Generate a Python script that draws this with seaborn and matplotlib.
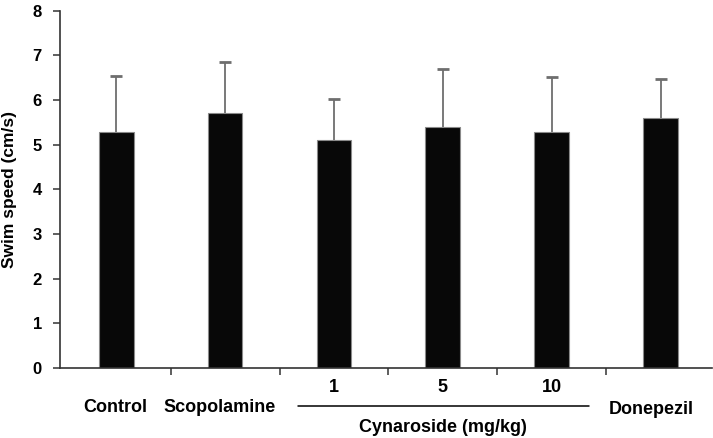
import matplotlib
matplotlib.use("Agg")
import matplotlib.pyplot as plt
import matplotlib.transforms as mtransforms
import seaborn as sns
import pandas as pd

# Data
groups = ["Control", "Scopolamine", "Cyn1", "Cyn5", "Cyn10", "Donepezil"]
swim_speed = [5.29, 5.70, 5.10, 5.40, 5.29, 5.60]
sd = [1.24, 1.16, 0.93, 1.29, 1.22, 0.87]
dose_labels = ["1", "5", "10"]
y_ticks = [0, 1, 2, 3, 4, 5, 6, 7, 8]

sns.set_theme(style="white")
plt.rcParams["font.family"] = ["Liberation Sans", "DejaVu Sans"]
plt.rcParams["font.weight"] = "bold"

df = pd.DataFrame({"group": groups, "speed": swim_speed, "sd": sd})

fig = plt.figure(figsize=(7.13, 4.38), dpi=100)
ax = fig.add_axes([60 / 713, 1 - 368 / 438, 652 / 713, (368 - 10.7) / 438])

sns.barplot(data=df, x="group", y="speed", order=groups, color="#080808",
            width=0.32, errorbar=None, edgecolor="#8a8a8a", linewidth=0.8,
            saturation=1, ax=ax)

xs = list(range(len(groups)))
eb = ax.errorbar(xs, df["speed"], yerr=[[0] * len(sd), df["sd"]], fmt="none",
                 ecolor="#6e6e6e", elinewidth=1.3, capsize=4, capthick=2, zorder=1)
# hide the lower caps (error bars are one-sided, upward only)
eb[1][0].set_visible(False)
for patch in ax.patches:
    patch.set_zorder(2)

ax.set_xlim(-0.515, 5.47)
ax.set_ylim(0, 8)
ax.set_yticks(y_ticks)
ax.set_yticklabels([str(t) for t in y_ticks], fontsize=12, fontweight="bold",
                   color="black")
ax.set_xticks([0.5, 1.5, 2.5, 3.5, 4.5])
ax.set_xticklabels([])
ax.tick_params(axis="both", direction="out", length=5, width=1.1, color="#333333",
               bottom=True, left=True)
ax.tick_params(axis="y", pad=8)
ax.set_xlabel("")
ax.set_ylabel("Swim speed (cm/s)", fontsize=12.5, fontweight="bold", color="black")
ax.yaxis.set_label_coords(-0.066, 0.5)

for s in ["top", "right"]:
    ax.spines[s].set_visible(False)
for s in ["left", "bottom"]:
    ax.spines[s].set_color("#333333")
    ax.spines[s].set_linewidth(1.2)

trans = mtransforms.blended_transform_factory(ax.transData, ax.transAxes)
h = 368 - 10.7

def yfrac(py):
    return (368 - py) / h

fs = 13
ax.text(-0.01, yfrac(407), "Control", transform=trans, ha="center", va="center",
        fontsize=fs, fontweight="bold", color="black")
ax.text(0.95, yfrac(407), "Scopolamine", transform=trans, ha="center", va="center",
        fontsize=fs, fontweight="bold", color="black")
for i, lab in enumerate(dose_labels):
    ax.text(2 + i, yfrac(388), lab, transform=trans, ha="center", va="center",
            fontsize=fs, fontweight="bold", color="black")
ax.plot([1.67, 4.34], [yfrac(406), yfrac(406)], transform=trans, color="black",
        lw=1.1, clip_on=False)
ax.text(3.0, yfrac(428), "Cynaroside (mg/kg)", transform=trans, ha="center",
        va="center", fontsize=fs, fontweight="bold", color="black")
ax.text(4.91, yfrac(409), "Donepezil", transform=trans, ha="center", va="center",
        fontsize=fs, fontweight="bold", color="black")

fig.savefig("out.png", dpi=100)
